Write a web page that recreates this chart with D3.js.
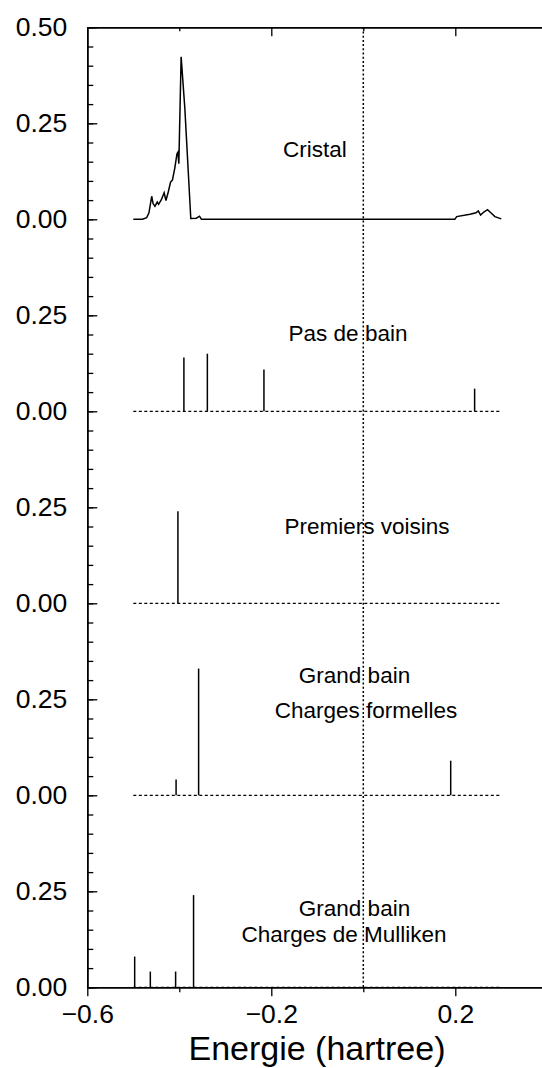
<!DOCTYPE html>
<html>
<head>
<meta charset="utf-8">
<script src="https://cdn.jsdelivr.net/npm/d3@7"></script>
<style>
  html, body { margin: 0; padding: 0; background: #fff; }
  svg { display: block; }
  text { font-family: "Liberation Sans", Arial, Helvetica, sans-serif; fill: #000; }
</style>
</head>
<body>
<svg id="chart" width="542" height="1068"></svg>
<script>
// Density of states of the crystal (continuous curve, top panel)
const crystalEnergy = [-0.500, -0.486, -0.480, -0.471, -0.466, -0.460, -0.457, -0.453, -0.448, -0.445,
  -0.439, -0.433, -0.429, -0.424, -0.419, -0.415, -0.410, -0.405, -0.403, -0.401, -0.396, -0.388,
  -0.375, -0.363, -0.356, -0.352, -0.345, 0.199, 0.203, 0.232, 0.245, 0.250, 0.255, 0.262, 0.270,
  0.279, 0.286, 0.300];
const crystalDos = [0.000, 0.000, 0.000, 0.004, 0.017, 0.060, 0.041, 0.034, 0.045, 0.039,
  0.051, 0.069, 0.049, 0.071, 0.097, 0.102, 0.132, 0.171, 0.175, 0.145, 0.423, 0.290,
  0.002, 0.003, 0.008, 0.000, 0.000, 0.000, 0.007, 0.013, 0.017, 0.022, 0.011, 0.019, 0.025,
  0.015, 0.007, 0.001];

// Cluster models: discrete levels (energy, weight)
const pasDeBainEnergy = [-0.390, -0.339, -0.216, 0.242];
const pasDeBainWeight = [0.140, 0.150, 0.109, 0.059];

const voisinsEnergy = [-0.403];
const voisinsWeight = [0.240];

const formellesEnergy = [-0.407, -0.358, 0.190];
const formellesWeight = [0.041, 0.330, 0.090];

const mullikenEnergy = [-0.497, -0.463, -0.408, -0.369];
const mullikenWeight = [0.080, 0.041, 0.041, 0.240];

// Panel captions (one or two lines each)
const panelTitles = [
  ["Cristal"],
  ["Pas de bain"],
  ["Premiers voisins"],
  ["Grand bain", "Charges formelles"],
  ["Grand bain", "Charges de Mulliken"]
];

// Axis ticks
const xMajorTicks = [-0.6, -0.2, 0.2];
const xMajorLabels = ["\u22120.6", "\u22120.2", "0.2"];
const xMinorTicks = [-0.4, 0.0, 0.4];
const yMajorTicks = [0.5, 0.25, 0.0, -0.25, -0.5, -0.75, -1.0, -1.25, -1.5, -1.75, -2.0];
const yMajorLabels = ["0.50", "0.25", "0.00", "0.25", "0.00", "0.25", "0.00", "0.25", "0.00", "0.25", "0.00"];
const xTitle = "Energie (hartree)";

// ---- layout ----
const svg = d3.select("#chart");
const plotLeft = 87.3, plotRight = 547.3, plotTop = 27.3, plotBottom = 987.3;
const panelStep = 0.5;          // vertical offset between stacked panels
const xStart = -0.5, xEnd = 0.3; // range covered by the spectra

const x = d3.scaleLinear().domain([-0.6, 0.4]).range([plotLeft, plotRight]);
const y = d3.scaleLinear().domain([-2.0, 0.5]).range([plotBottom, plotTop]);
const base = k => -panelStep * k;

const g = svg.append("g");

// vertical dotted line at E = 0
g.append("line")
  .attr("x1", x(0)).attr("x2", x(0))
  .attr("y1", y(0.5)).attr("y2", y(-2.0))
  .attr("stroke", "#000").attr("stroke-width", 1.5)
  .attr("stroke-dasharray", "2,2.2");

// dotted zero lines of the cluster panels
[1, 2, 3, 4].forEach(k => {
  g.append("line")
    .attr("x1", x(xStart)).attr("x2", x(xEnd))
    .attr("y1", y(base(k))).attr("y2", y(base(k)))
    .attr("stroke", "#000").attr("stroke-width", 1.2)
    .attr("stroke-dasharray", "3,2.5");
});

// crystal curve
const line = d3.line().x(d => x(d[0])).y(d => y(d[1] + base(0)));
g.append("path")
  .datum(d3.zip(crystalEnergy, crystalDos))
  .attr("d", line)
  .attr("fill", "none").attr("stroke", "#000").attr("stroke-width", 1.5)
  .attr("stroke-linejoin", "miter");

// sticks for the cluster models
const stickSets = [
  [1, pasDeBainEnergy, pasDeBainWeight],
  [2, voisinsEnergy, voisinsWeight],
  [3, formellesEnergy, formellesWeight],
  [4, mullikenEnergy, mullikenWeight]
];
stickSets.forEach(([k, es, ws]) => {
  g.selectAll(null)
    .data(d3.zip(es, ws))
    .enter().append("line")
    .attr("x1", d => x(d[0])).attr("x2", d => x(d[0]))
    .attr("y1", y(base(k))).attr("y2", d => y(base(k) + d[1]))
    .attr("stroke", "#000").attr("stroke-width", 1.5);
});

// panel captions
const captionPos = [
  [{ cx: 315, y: 157.3 }],
  [{ cx: 348, y: 340.7 }],
  [{ cx: 367, y: 533.5 }],
  [{ cx: 354.5, y: 683.3 }, { cx: 366, y: 718.3 }],
  [{ cx: 354.5, y: 915.5 }, { cx: 344, y: 941.5 }]
];
panelTitles.forEach((lines, k) => {
  lines.forEach((t, i) => {
    g.append("text")
      .attr("x", captionPos[k][i].cx).attr("y", captionPos[k][i].y)
      .attr("text-anchor", "middle")
      .attr("font-size", 22.5)
      .text(t);
  });
});

// ---- axes ----
function styleAxis(sel, width) {
  sel.selectAll("path.domain").attr("stroke", "#000").attr("stroke-width", width);
  sel.selectAll(".tick line").attr("stroke", "#000").attr("stroke-width", 1.3);
}

// left axis: minor ticks every 0.05, majors with labels
const yMinor = d3.range(-2.0, 0.5001, 0.05);
const leftMinor = g.append("g").attr("transform", `translate(${plotLeft},0)`)
  .call(d3.axisLeft(y).tickValues(yMinor).tickSize(-6).tickSizeOuter(0).tickFormat(""));
styleAxis(leftMinor, 1.5);
const leftMajor = g.append("g").attr("transform", `translate(${plotLeft},0)`)
  .call(d3.axisLeft(y).tickValues(yMajorTicks).tickSize(-10).tickSizeOuter(0).tickPadding(20)
    .tickFormat((d, i) => yMajorLabels[i]));
styleAxis(leftMajor, 1.5);
leftMajor.selectAll("text").attr("font-size", 26.5)
  .attr("font-family", "'Liberation Sans', Arial, Helvetica, sans-serif");

// bottom axis
const bottomMinor = g.append("g").attr("transform", `translate(0,${plotBottom})`)
  .call(d3.axisBottom(x).tickValues(xMinorTicks).tickSize(5).tickSizeOuter(0).tickFormat(""));
styleAxis(bottomMinor, 1.5);
const bottomMajor = g.append("g").attr("transform", `translate(0,${plotBottom})`)
  .call(d3.axisBottom(x).tickValues(xMajorTicks).tickSize(9).tickSizeOuter(0).tickPadding(8)
    .tickFormat((d, i) => xMajorLabels[i]));
styleAxis(bottomMajor, 1.5);
bottomMajor.selectAll("text").attr("font-size", 26.5)
  .attr("font-family", "'Liberation Sans', Arial, Helvetica, sans-serif");

// top axis (ticks pointing inward, no labels)
const topMinor = g.append("g").attr("transform", `translate(0,${plotTop})`)
  .call(d3.axisTop(x).tickValues([-0.4, 0.0]).tickSize(-4).tickSizeOuter(0).tickFormat(""));
styleAxis(topMinor, 1.5);
const topMajor = g.append("g").attr("transform", `translate(0,${plotTop})`)
  .call(d3.axisTop(x).tickValues([-0.2, 0.2]).tickSize(-9).tickSizeOuter(0).tickFormat(""));
styleAxis(topMajor, 1.5);

// x axis title
g.append("text")
  .attr("x", 317).attr("y", 1059.5)
  .attr("text-anchor", "middle")
  .attr("font-size", 34)
  .text(xTitle);
</script>
</body>
</html>
